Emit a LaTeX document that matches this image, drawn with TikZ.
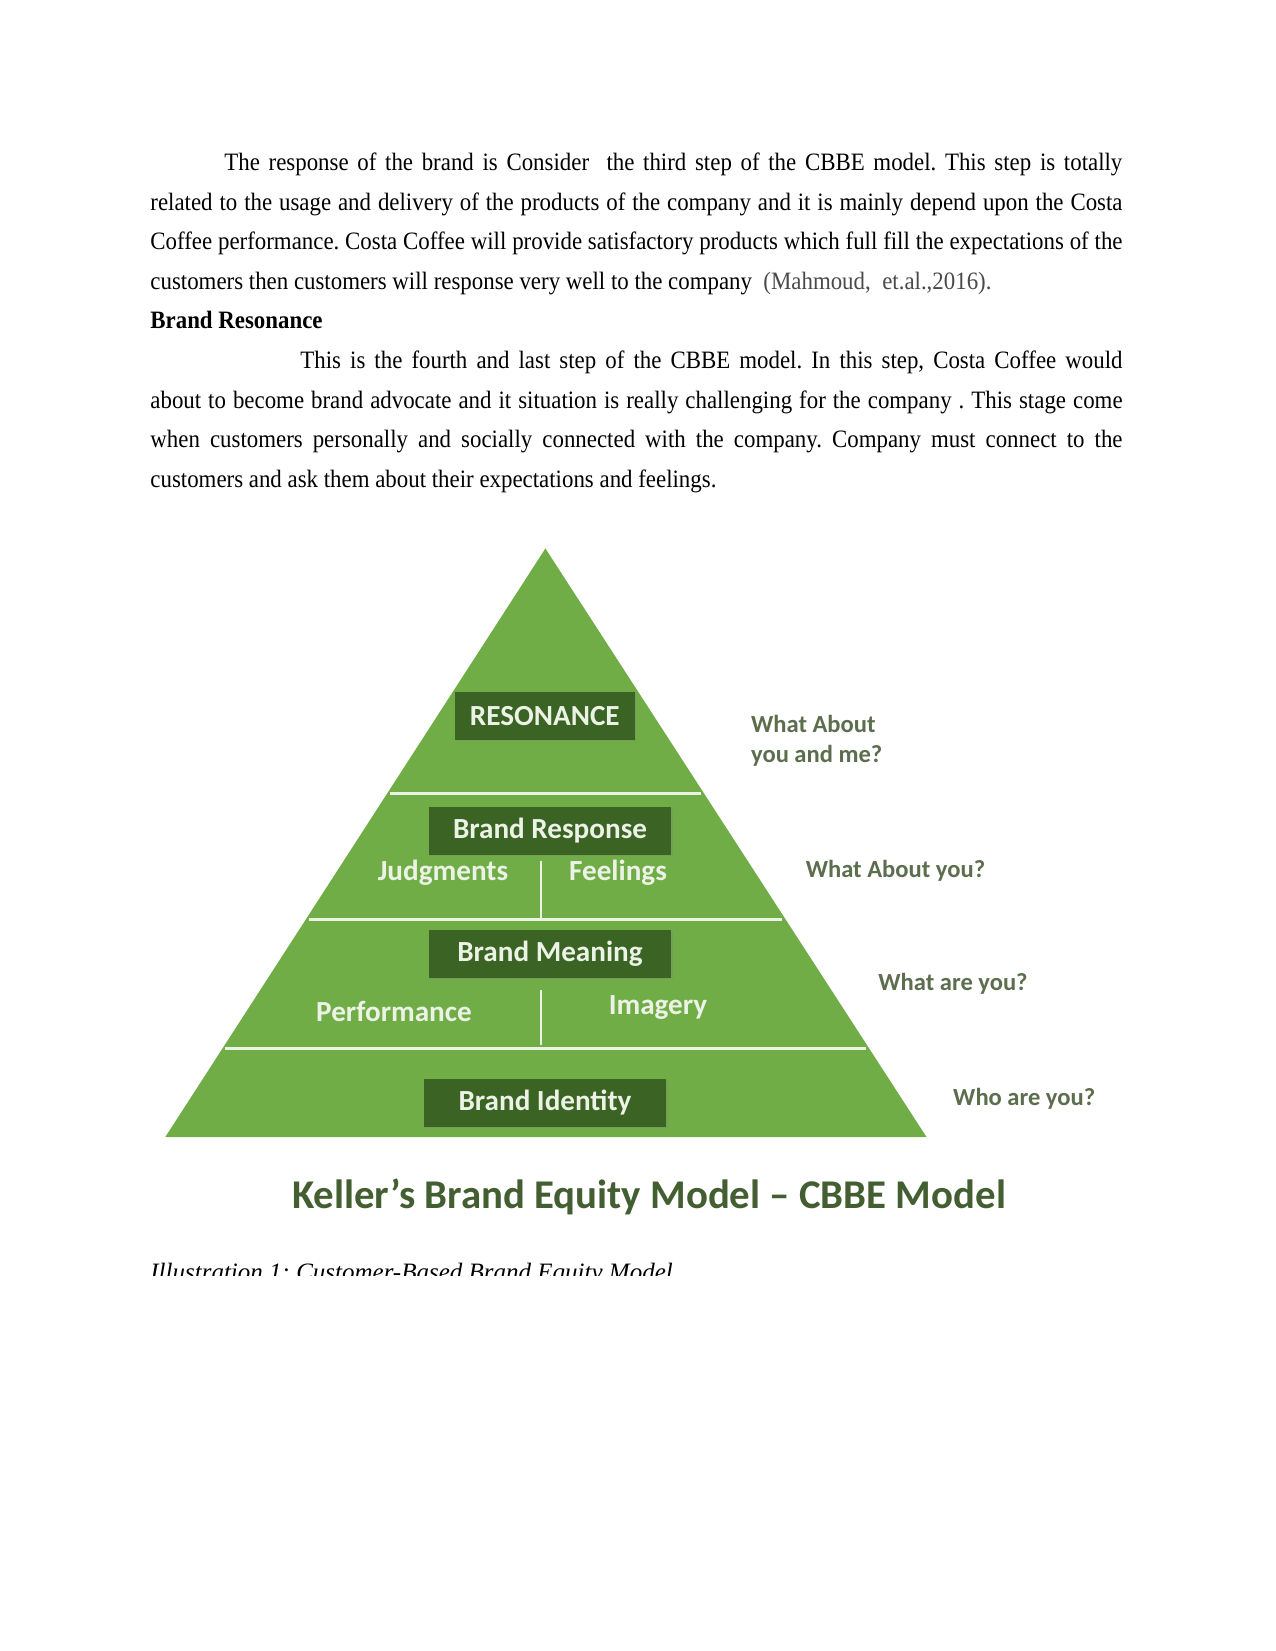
\documentclass[tikz,border=0pt]{standalone}
\usepackage{fontspec}
\setmainfont{Liberation Serif}[FakeStretch=0.915, Ligatures=NoCommon]
\newfontfamily\captfont{Liberation Serif}
\newfontfamily\calib{Carlito}
\usetikzlibrary{calc,shadows}
\frenchspacing

\definecolor{pyrgreen}{HTML}{70AD47}
\definecolor{boxgreen}{HTML}{3A6324}
\definecolor{paletext}{HTML}{ECF3E6}
\definecolor{sidegray}{HTML}{5C6E4E}
\definecolor{titlegreen}{HTML}{435E30}
\definecolor{citegray}{HTML}{4A4A4A}

\tikzset{
  bodyline/.style={anchor=base west, inner sep=0pt, font=\fontsize{12}{14}\selectfont},
  tierbox/.style={fill=boxgreen, text=paletext, inner sep=0pt, font=\calib\bfseries\fontsize{14}{16}\selectfont,
    minimum height=22.6pt, drop shadow={opacity=0.3, shadow xshift=0.8pt, shadow yshift=-0.8pt}},
  tierlabel/.style={text=paletext, inner sep=0pt, font=\calib\bfseries\fontsize{14}{16}\selectfont},
  sidelabel/.style={anchor=west, align=left, inner sep=0pt, text=sidegray, font=\calib\bfseries\fontsize{11.8}{14.2}\selectfont},
  divider/.style={draw=paletext, line width=1.4pt}
}

\begin{document}
\begin{tikzpicture}[x=0.48pt, y=-0.48pt]
\useasboundingbox[fill=white] (0,0) rectangle (1275,1651);

% text above the figure
\node[bodyline] (l1) at (224,170.5) {\hbox to 431pt{The response of the brand is Consider\ \ the third step of the CBBE model. This step is totally}};
\node[bodyline] (l2) at (150,210.1) {\hbox to 466.6pt{related to the usage and delivery of the products of the company and it is mainly depend upon the Costa}};
\node[bodyline] (l3) at (150,249.7) {\hbox to 466.6pt{Coffee performance. Costa Coffee will provide satisfactory products which full fill the expectations of the}};
\node[bodyline] (l4) at (150,289.3) {customers then customers will response very well to the company\ \ {\color{citegray}(Mahmoud,\ \ et.al.,2016).}};
\node[bodyline, font=\fontsize{12}{14}\selectfont\bfseries] (head) at (150,328.9) {Brand Resonance};
\node[bodyline] (l6) at (300,368.5) {\hbox to 394.6pt{This is the fourth and last step of the CBBE model. In this step, Costa Coffee would}};
\node[bodyline] (l7) at (150,408.1) {\hbox to 466.6pt{about to become brand advocate and it situation is really challenging for the company . This stage come}};
\node[bodyline] (l8) at (150,447.7) {\hbox to 466.6pt{when customers personally and socially connected with the company. Company must connect to the}};
\node[bodyline] (l9) at (150,487.3) {customers and ask them about their expectations and feelings.};

% pyramid
\coordinate (apex) at (545.4,548.5);
\coordinate (bl) at (165.3,1137);
\coordinate (br) at (926.5,1137);
\fill[pyrgreen] (apex) -- (br) -- (bl) -- cycle;
\foreach \t in {0.4168,0.6297,0.8498}
  \draw[divider] ($(apex)!\t!(bl)+(3,0)$) -- ($(apex)!\t!(br)+(-3,0)$);
\draw[divider, line width=1pt] (541,861) -- (541,918);
\draw[divider, line width=1pt] (541,990) -- (541,1045);

\node[tierbox, minimum width=86.4pt] (reso) at (544.8,716) {RESONANCE};
\node[tierbox, minimum width=116.6pt] (resp) at (550,831) {Brand Response};
\node[tierbox, minimum width=116.6pt] (mean) at (550,954) {Brand Meaning};
\node[tierbox, minimum width=116.6pt] (iden) at (545,1103) {Brand Identity};

\node[tierlabel] (judg) at (443,873) {Judgments};
\node[tierlabel] (feel) at (618,873) {Feelings};
\node[tierlabel] (perf) at (394,1011) {Performance};
\node[tierlabel] (imag) at (658,1007.5) {Imagery};

\node[sidelabel] (q1) at (750.7,741) {What About\\you and me?};
\node[sidelabel] (q2) at (805.4,870.7) {What About you?};
\node[sidelabel] (q3) at (878,984) {What are you?};
\node[sidelabel] (q4) at (952.8,1099) {Who are you?};

\node[text=titlegreen, font=\calib\bfseries\fontsize{19.6}{22}\selectfont, inner sep=0pt] (title) at (649,1197) {Keller’s Brand Equity Model – CBBE Model};

% caption, cut off at the bottom
\begin{scope}
\clip (100,1240) rectangle (1200,1275);
\node[bodyline, font=\captfont\fontsize{12}{14}\selectfont\itshape] (capt) at (150,1280.5) {Illustration 1: Customer-Based Brand Equity Model};
\end{scope}
\end{tikzpicture}
\end{document}
